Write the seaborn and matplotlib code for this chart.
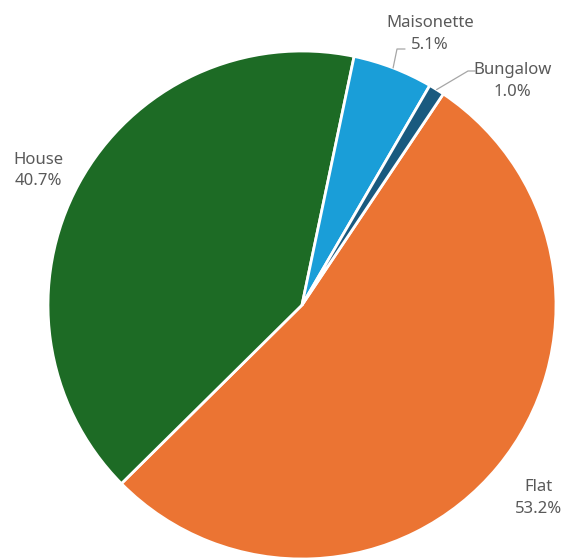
import numpy as np
import matplotlib
matplotlib.use("Agg")
import matplotlib.pyplot as plt
import seaborn as sns

# Dwelling types and their share of the stock (%)
categories = ["Flat", "House", "Maisonette", "Bungalow"]
shares = [53.2, 40.7, 5.1, 1.0]
colors = ["#EB7433", "#1D6B25", "#1A9ED8", "#195A7F"]

sns.set_theme(style="white")
plt.rcParams["font.family"] = ["Noto Sans", "DejaVu Sans"]

fig = plt.figure(figsize=(5.68, 5.58), dpi=100)
ax = fig.add_axes([0, 0, 1, 1])

cx, cy, r = 302, 253, 254
wedges, _ = ax.pie(
    shares, colors=colors, startangle=56.2, counterclock=False,
    center=(cx, cy), radius=r, frame=True,
    wedgeprops=dict(edgecolor="white", linewidth=2.0),
)
ax.set_xlim(0, 568)
ax.set_ylim(0, 558)
ax.set_aspect("equal")
ax.axis("off")

text_color = "#595959"
line_color = "#A6A6A6"

# label anchors as offsets from the pie centre
label_offsets = {
    "Flat": (237, -193),
    "House": (-264, 134.6),
    "Maisonette": (128, 271),
    "Bungalow": (210.5, 224),
}
# leader lines for the narrow slices: elbow and end, as offsets from the centre
leaders = {
    "Maisonette": [(95, 256), (103, 256)],
    "Bungalow": [(166, 234), (173, 234)],
}

for w, name, val in zip(wedges, categories, shares):
    mid = np.deg2rad((w.theta1 + w.theta2) / 2)
    dx, dy = label_offsets[name]
    ax.text(cx + dx, cy + dy, f"{name}\n{val:.1f}%", ha="center", va="center",
            fontsize=12, color=text_color, linespacing=1.43)
    if name in leaders:
        ex, ey = cx + r * np.cos(mid), cy + r * np.sin(mid)
        pts = [(ex, ey)] + [(cx + px, cy + py) for px, py in leaders[name]]
        xs, ys = zip(*pts)
        ax.plot(xs, ys, color=line_color, linewidth=0.9, clip_on=False)

fig.savefig("out.png", dpi=100)
